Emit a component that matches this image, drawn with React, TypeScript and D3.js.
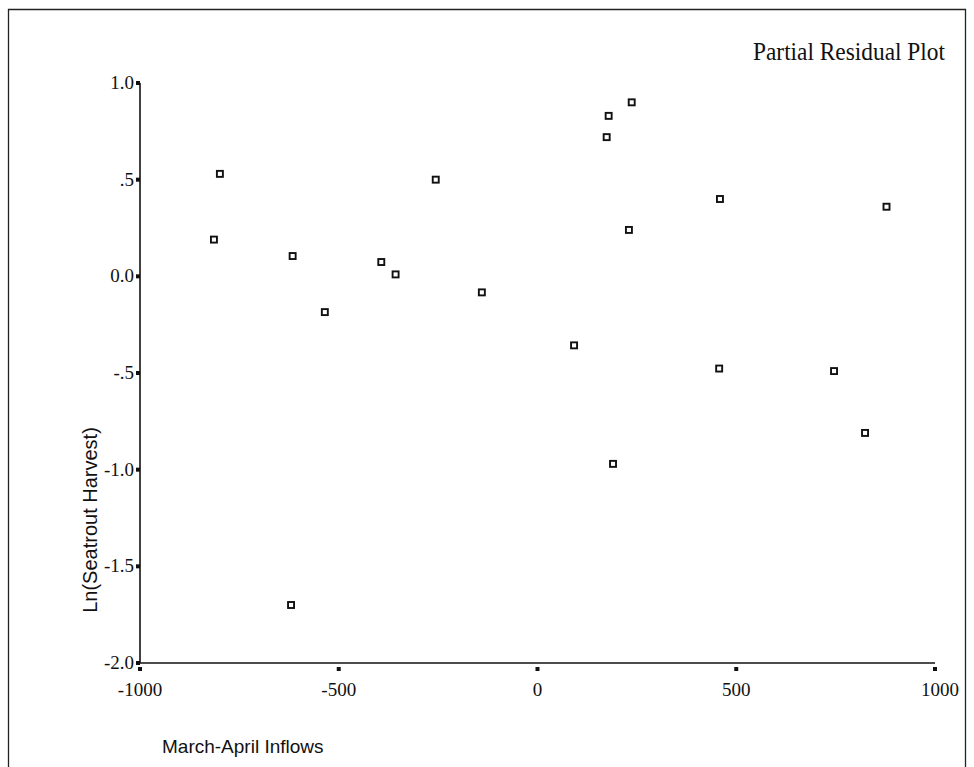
import React from "react";
import * as d3 from "d3";

const inflows = [-799, -256, -814, -616, -393, -357, -535, 237, 179, 174, 230, 92, 457, 746, 824, 459, 878, -620, -140, 190];
const residuals = [0.53, 0.5, 0.19, 0.105, 0.074, 0.01, -0.185, 0.9, 0.83, 0.72, 0.24, -0.357, -0.477, -0.49, -0.81, 0.4, 0.36, -1.7, -0.083, -0.97];
const xTicks = [-1000, -500, 0, 500, 1000];
const xTickLabels = ["-1000", "-500", "0", "500", "1000"];
const yTicks = [1.0, 0.5, 0.0, -0.5, -1.0, -1.5, -2.0];
const yTickLabels = ["1.0", ".5", "0.0", "-.5", "-1.0", "-1.5", "-2.0"];

const W = 974;
const H = 767;

export default function App() {
  const x = d3.scaleLinear().domain([-1000, 1000]).range([140, 935]);
  const y = d3.scaleLinear().domain([-2, 1]).range([663, 83]);
  const serif = "'Liberation Serif', 'Times New Roman', serif";
  const sans = "'Liberation Sans', Arial, sans-serif";
  const pts = inflows.map((v, i) => ({ x: v, y: residuals[i] }));
  return (
    <svg width={W} height={H} style={{ position: "absolute", left: 0, top: 0, background: "#fff" }}>
      <rect x={0} y={0} width={W} height={H} fill="#fff" />
      {/* frame */}
      <path d={`M8.5,${H + 5} L8.5,9.5 L965.5,9.5 L965.5,${H + 5}`} fill="none" stroke="#222" strokeWidth={1.3} />
      {/* title */}
      <text x={753} y={60} textLength={192} lengthAdjust="spacingAndGlyphs" fontFamily={serif} fontSize={25} fill="#111">Partial Residual Plot</text>
      {/* axes lines */}
      <line x1={x(-1000)} y1={y(1)} x2={x(-1000)} y2={y(-2)} stroke="#111" strokeWidth={1.6} />
      <line x1={x(-1000)} y1={y(-2)} x2={x(1000)} y2={y(-2)} stroke="#111" strokeWidth={1.6} />
      {/* y ticks */}
      {yTicks.map((t, i) => (
        <g key={"yt" + i}>
          <rect x={x(-1000) - 4} y={y(t) - 2} width={4} height={4} fill="#111" />
          <text x={x(-1000) - 6} y={y(t) + 6} textAnchor="end" fontFamily={serif} fontSize={19} fill="#111">{yTickLabels[i]}</text>
        </g>
      ))}
      {/* x ticks */}
      {xTicks.map((t, i) => (
        <g key={"xt" + i}>
          <rect x={x(t) - 2} y={y(-2) + 4} width={4} height={4} fill="#111" />
          <text x={x(t) + (i === 4 ? 5 : 0)} y={y(-2) + 33} textAnchor="middle" fontFamily={serif} fontSize={19} fill="#111">{xTickLabels[i]}</text>
        </g>
      ))}
      {/* axis titles */}
      <text transform={`translate(97,520) rotate(-90)`} textAnchor="middle" fontFamily={sans} fontSize={20} fill="#111">Ln(Seatrout Harvest)</text>
      <text x={162} y={753} fontFamily={sans} fontSize={19} fill="#111">March-April Inflows</text>
      {/* points */}
      {pts.map((p, i) => (
        <rect key={"p" + i} x={x(p.x) - 3} y={y(p.y) - 3} width={6} height={6} fill="#fff" stroke="#111" strokeWidth={1.9} />
      ))}
    </svg>
  );
}
